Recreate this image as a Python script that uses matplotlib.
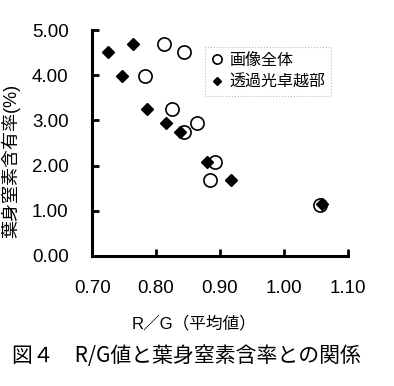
import matplotlib.pyplot as plt

plt.rcParams['font.family'] = ['Liberation Sans', 'Noto Sans CJK JP', 'DejaVu Sans']

# 画像全体
rg_all = [0.813, 0.843, 0.782, 0.825, 0.843, 0.864, 0.892, 0.884, 1.057]
n_all = [4.70, 4.51, 3.99, 3.25, 2.74, 2.94, 2.09, 1.67, 1.13]
# 透過光卓越部
rg_trans = [0.724, 0.764, 0.746, 0.786, 0.816, 0.838, 0.879, 0.917, 1.060]
n_trans = [4.51, 4.69, 3.99, 3.25, 2.94, 2.75, 2.09, 1.67, 1.14]

xticks = [0.70, 0.80, 0.90, 1.00, 1.10]
yticks = [0.00, 1.00, 2.00, 3.00, 4.00, 5.00]

fig = plt.figure(figsize=(3.94, 3.86), dpi=100)
ax = fig.add_axes([0.234, 0.337, 0.649, 0.585])

ax.plot(rg_all, n_all, 'o', ms=9.5, mfc='white', mec='black', mew=1.2,
        label='画像全体', clip_on=False)
ax.plot(rg_trans, n_trans, 'D', ms=6, mfc='black', mec='black',
        label='透過光卓越部', clip_on=False)

ax.set_xlim(0.70, 1.10)
ax.set_ylim(0, 5)
ax.set_xticks(xticks)
ax.set_yticks(yticks)
ax.set_xticklabels([f'{v:.2f}' for v in xticks])
ax.set_yticklabels([f'{v:.2f}' for v in yticks])

for s in ['top', 'right']:
    ax.spines[s].set_visible(False)
for s in ['left', 'bottom']:
    ax.spines[s].set_linewidth(2.2)

ax.tick_params(direction='in', length=5, width=2, labelsize=13.5)
ax.tick_params(axis='y', pad=17)
ax.tick_params(axis='x', pad=17)

leg = ax.legend(loc='upper left', bbox_to_anchor=(0.44, 0.925), fontsize=11.5,
                frameon=True, fancybox=False, markerscale=0.7,
                handletextpad=0.3, borderpad=0.35, handlelength=0.9,
                labelspacing=0.45, borderaxespad=0)
leg.get_frame().set_edgecolor('#aaaaaa')
leg.get_frame().set_linestyle(':')
leg.get_frame().set_linewidth(0.8)

ax.set_ylabel('葉身窒素含有率(%)', fontsize=13)
ax.yaxis.set_label_coords(-0.282, 0.42)
ax.set_xlabel('R／G（平均値）', fontsize=12)
ax.xaxis.set_label_coords(0.40, -0.265)

fig.text(0.03, 0.062, '図４　R/G値と葉身窒素含率との関係', fontsize=15,
         family=['Noto Sans CJK JP', 'DejaVu Sans'])

fig.savefig('out.png', dpi=100)
